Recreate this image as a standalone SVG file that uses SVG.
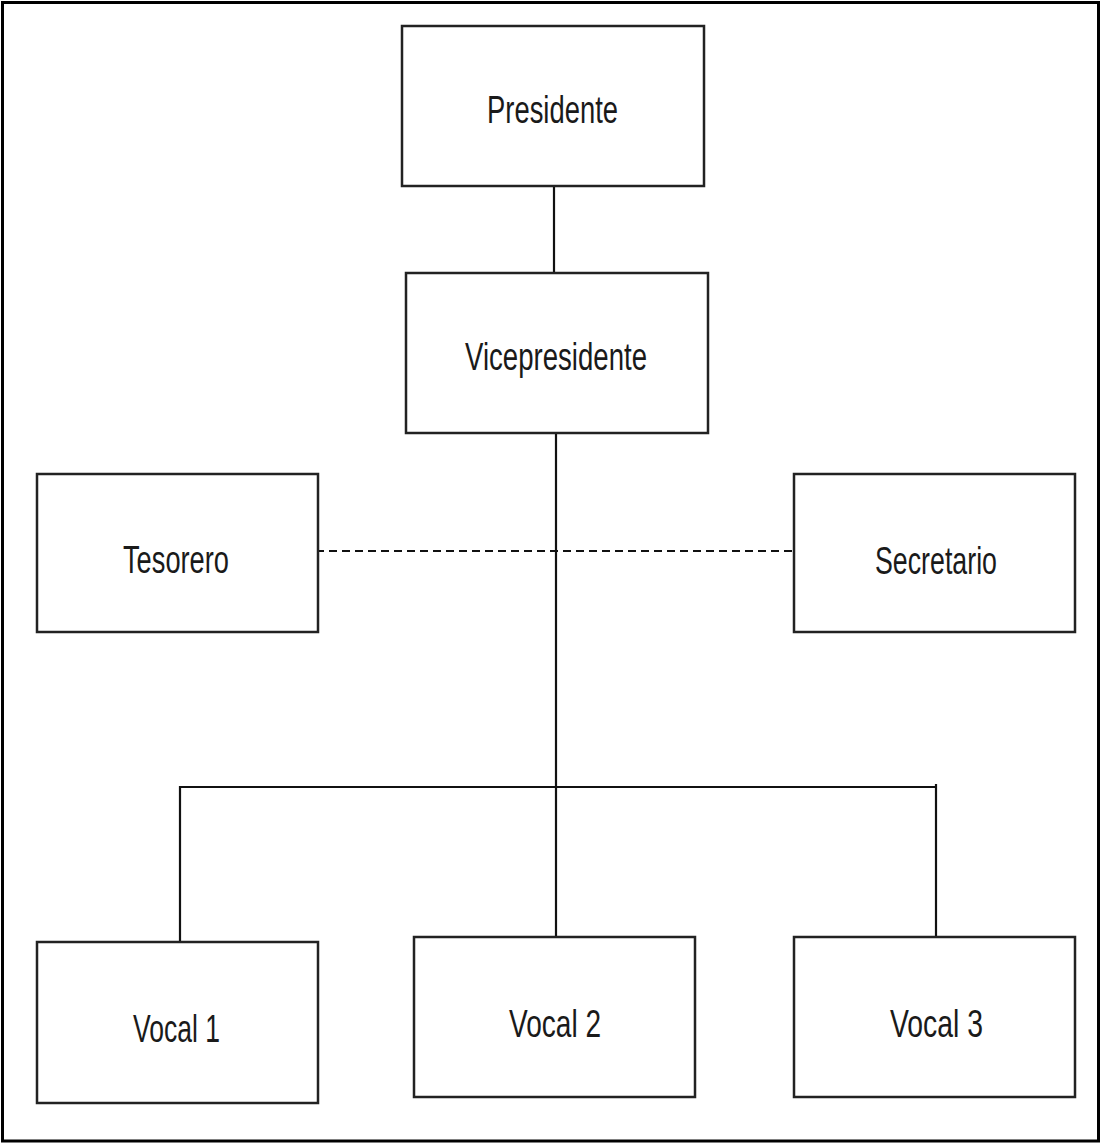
<svg xmlns="http://www.w3.org/2000/svg" width="1101" height="1144" viewBox="0 0 1101 1144">
<style>
.box{fill:#fff;stroke:#222;stroke-width:2.5}
.lbl{font-family:"Liberation Sans",Arial,sans-serif;font-size:38px;fill:#1a1a1a}
.ln{stroke:#111;stroke-width:2.2;fill:none}
.dash{stroke:#111;stroke-width:2.2;fill:none;stroke-dasharray:8 5}
</style>
<rect x="0" y="0" width="1101" height="1144" fill="#fff"/>
<rect x="2.5" y="2.5" width="1096" height="1138.5" fill="none" stroke="#000" stroke-width="3"/>
<g id="connectors">
<line class="ln" x1="554" y1="186" x2="554" y2="273"/>
<line class="ln" x1="556" y1="433" x2="556" y2="942"/>
<line class="dash" x1="316" y1="551" x2="792" y2="551"/>
<polyline class="ln" points="180,942 180,787 936,787"/>
<line class="ln" x1="936" y1="784" x2="936" y2="940"/>
</g>
<g id="presidente">
<rect class="box" x="402" y="26" width="302" height="160"/>
<text class="lbl" x="487" y="123" textLength="131" lengthAdjust="spacingAndGlyphs">Presidente</text>
</g>
<g id="vicepresidente">
<rect class="box" x="406" y="273" width="302" height="160"/>
<text class="lbl" x="465" y="370" textLength="182" lengthAdjust="spacingAndGlyphs">Vicepresidente</text>
</g>
<g id="tesorero">
<rect class="box" x="37" y="474" width="281" height="158"/>
<text class="lbl" x="123" y="573" textLength="106" lengthAdjust="spacingAndGlyphs">Tesorero</text>
</g>
<g id="secretario">
<rect class="box" x="794" y="474" width="281" height="158"/>
<text class="lbl" x="875" y="574" textLength="122" lengthAdjust="spacingAndGlyphs">Secretario</text>
</g>
<g id="vocal1">
<rect class="box" x="37" y="942" width="281" height="161"/>
<text class="lbl" x="133" y="1042" textLength="87" lengthAdjust="spacingAndGlyphs">Vocal 1</text>
</g>
<g id="vocal2">
<rect class="box" x="414" y="937" width="281" height="160"/>
<text class="lbl" x="509" y="1037" textLength="92" lengthAdjust="spacingAndGlyphs">Vocal 2</text>
</g>
<g id="vocal3">
<rect class="box" x="794" y="937" width="281" height="160"/>
<text class="lbl" x="890" y="1037" textLength="93" lengthAdjust="spacingAndGlyphs">Vocal 3</text>
</g>
</svg>
